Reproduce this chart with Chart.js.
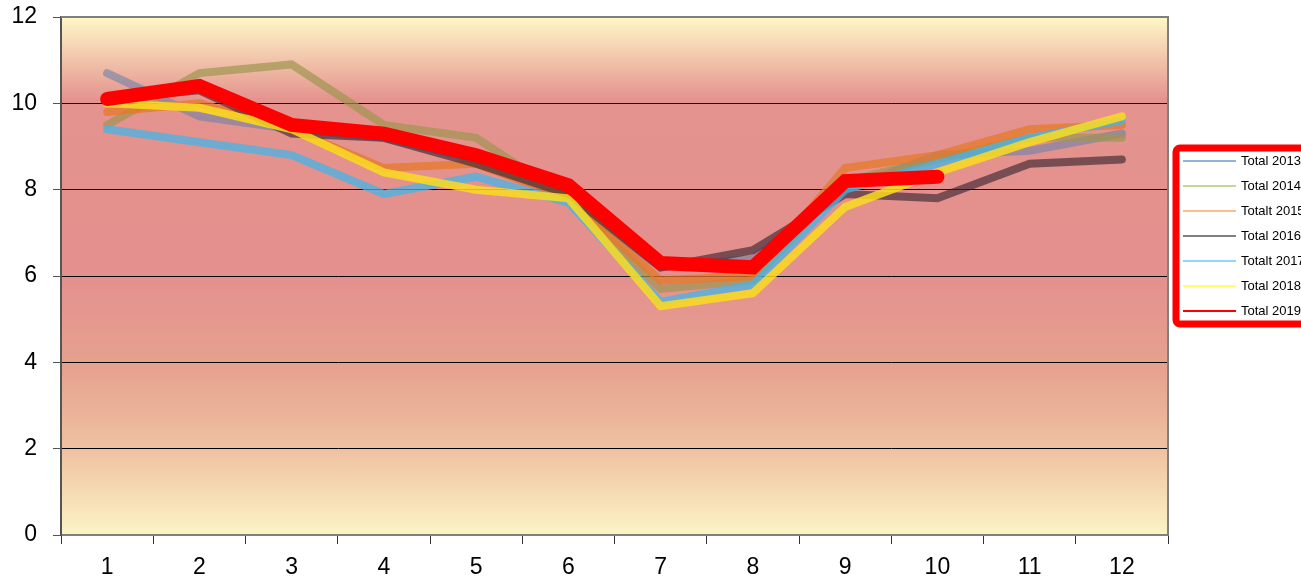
<!DOCTYPE html>
<html>
<head>
<meta charset="utf-8">
<script src="https://cdn.jsdelivr.net/npm/chart.js@4"></script>
<style>
  html, body { margin: 0; padding: 0; background: #fff; overflow: hidden; }
  #wrap { width: 1301px; height: 578px; }
</style>
</head>
<body>
<div id="wrap"><canvas id="chart" width="1301" height="578"></canvas></div>
<script>
// Months
const months = ['1', '2', '3', '4', '5', '6', '7', '8', '9', '10', '11', '12'];

// Values per year
const total2013 = [10.7, 9.7, 9.4, 9.2, 8.7, 7.8, 6.2, 6.4, 8.0, 8.8, 8.9, 9.3];
const total2014 = [9.5, 10.7, 10.9, 9.5, 9.2, 7.8, 5.7, 5.9, 8.2, 8.7, 9.2, 9.2];
const total2015 = [9.8, 10.0, 9.4, 8.5, 8.6, 7.8, 5.9, 6.0, 8.5, 8.8, 9.4, 9.5];
const total2016 = [10.1, 10.3, 9.3, 9.2, 8.6, 7.9, 6.2, 6.6, 7.9, 7.8, 8.6, 8.7];
const total2017 = [9.4, 9.1, 8.8, 7.9, 8.3, 7.7, 5.4, 5.8, 8.0, 8.6, 9.2, 9.6];
const total2018 = [10.0, 9.9, 9.4, 8.4, 8.0, 7.8, 5.3, 5.6, 7.6, 8.4, 9.1, 9.7];
const total2019 = [10.1, 10.4, 9.5, 9.3, 8.8, 8.1, 6.3, 6.2, 8.2, 8.3];

const yTicks = [0, 2, 4, 6, 8, 10, 12];

const series = [
    { label: 'Total 2013', data: total2013, color: 'rgba(110,130,170,0.6)', legend: '#95B3D7', width: 8 },
    { label: 'Total 2014', data: total2014, color: 'rgba(160,150,80,0.7)', legend: '#C4D79B', width: 8 },
    { label: 'Totalt 2015', data: total2015, color: 'rgba(230,120,40,0.75)', legend: '#FABF8F', width: 8 },
    { label: 'Total 2016', data: total2016, color: 'rgba(60,40,50,0.65)', legend: '#808080', width: 8 },
    { label: 'Totalt 2017', data: total2017, color: 'rgba(70,180,230,0.75)', legend: '#8ED8F8', width: 8 },
    { label: 'Total 2018', data: total2018, color: 'rgba(250,220,30,0.85)', legend: '#FFFF66', width: 8 },
    { label: 'Total 2019', data: total2019, color: '#ff0000', legend: '#ff0000', width: 14 }
];

// Gradient background + plot frame
const plotBackground = {
    id: 'plotBackground',
    beforeDraw(chart) {
        const { ctx, chartArea: a } = chart;
        const g = ctx.createLinearGradient(0, a.top, 0, a.bottom);
        g.addColorStop(0, '#fff8c8');
        g.addColorStop(0.16, '#e4938e');
        g.addColorStop(0.5, '#e4908e');
        g.addColorStop(0.68, '#e6a28f');
        g.addColorStop(0.84, '#efc3a2');
        g.addColorStop(1, '#fcf4c6');
        ctx.save();
        ctx.fillStyle = g;
        ctx.fillRect(a.left, a.top, a.right - a.left, a.bottom - a.top);
        ctx.restore();
    },
    afterDatasetsDraw(chart) {
        const { ctx, chartArea: a } = chart;
        ctx.save();
        ctx.strokeStyle = '#808080';
        ctx.lineWidth = 2;
        ctx.beginPath();
        ctx.moveTo(a.left, a.top);
        ctx.lineTo(a.right, a.top);
        ctx.lineTo(a.right, a.bottom);
        ctx.stroke();
        ctx.restore();
    }
};

// Legend box on the right, runs off the canvas edge like the original
const boxLegend = {
    id: 'boxLegend',
    afterDraw(chart) {
        const ctx = chart.ctx;
        const x = 1176, y = 148, w = 200, h = 176;
        ctx.save();
        ctx.fillStyle = '#ffffff';
        ctx.strokeStyle = '#ff0000';
        ctx.lineWidth = 7;
        ctx.beginPath();
        ctx.roundRect(x, y, w, h, 4);
        ctx.fill();
        ctx.stroke();
        ctx.font = '13px "Liberation Sans", Arial, sans-serif';
        ctx.textBaseline = 'middle';
        chart.data.datasets.forEach((ds, i) => {
            const ly = 161 + i * 25;
            ctx.strokeStyle = ds.legendColor;
            ctx.lineWidth = 2;
            ctx.beginPath();
            ctx.moveTo(1183, ly);
            ctx.lineTo(1236, ly);
            ctx.stroke();
            ctx.fillStyle = '#000';
            ctx.fillText(ds.label, 1241, ly);
        });
        ctx.restore();
    }
};

new Chart(document.getElementById('chart'), {
    type: 'line',
    data: {
        labels: months,
        datasets: series.map((s, i) => ({
            label: s.label,
            data: s.data,
            borderColor: s.color,
            backgroundColor: s.color,
            legendColor: s.legend,
            borderWidth: s.width,
            borderCapStyle: 'round',
            borderJoinStyle: 'miter',
            pointRadius: 0,
            tension: 0,
            fill: false,
            order: series.length - i
        }))
    },
    options: {
        responsive: false,
        animation: false,
        layout: { padding: { left: 0, right: 133, top: 17, bottom: 0 } },
        plugins: {
            legend: { display: false },
            tooltip: { enabled: false }
        },
        scales: {
            x: {
                offset: true,
                afterFit: s => { s.height = 43; },
                grid: {
                    offset: true,
                    drawOnChartArea: false,
                    drawTicks: true,
                    tickLength: 9,
                    color: '#333333',
                    lineWidth: 1
                },
                border: { color: '#808080', width: 2 },
                ticks: {
                    color: '#000',
                    padding: 10,
                    font: { family: '"Liberation Sans", Arial, sans-serif', size: 23 }
                }
            },
            y: {
                min: 0,
                max: 12,
                afterFit: s => { s.width = 61; s.paddingTop = 0; s.paddingBottom = 0; },
                afterBuildTicks: s => { s.ticks = yTicks.map(v => ({ value: v })); },
                grid: {
                    drawTicks: true,
                    tickLength: 8,
                    color: ctx => (ctx.tick && (ctx.tick.value === 12 || ctx.tick.value === 0)) ? 'rgba(0,0,0,0)' : '#000',
                    tickColor: '#555555',
                    lineWidth: 1
                },
                border: { color: '#555555', width: 2 },
                ticks: {
                    color: '#000',
                    padding: 16,
                    font: { family: '"Liberation Sans", Arial, sans-serif', size: 23 }
                }
            }
        }
    },
    plugins: [plotBackground, boxLegend]
});
</script>
</body>
</html>
